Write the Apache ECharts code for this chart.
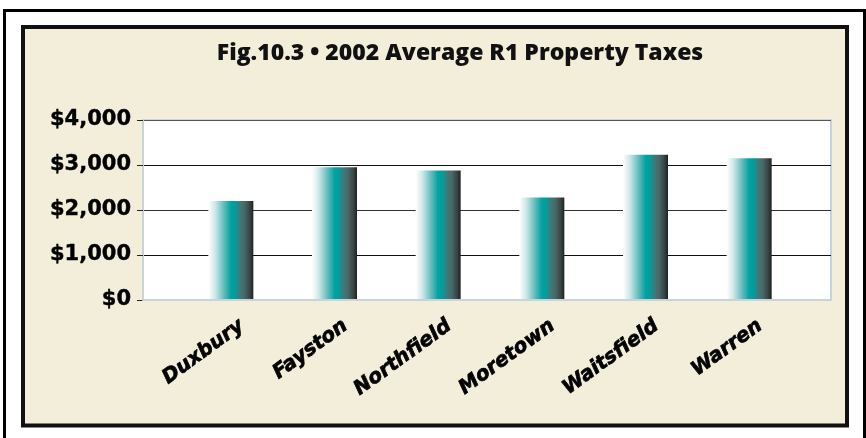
<!DOCTYPE html>
<html>
<head>
<meta charset="utf-8">
<script src="https://cdn.jsdelivr.net/npm/echarts@6/dist/echarts.min.js"></script>
<style>
  html, body { margin: 0; padding: 0; background: #fff; }
  #chart { width: 866px; height: 438px; }
</style>
</head>
<body>
<div id="chart"></div>
<script>
// town names and average R1 property tax (dollars)
var towns = ["Duxbury", "Fayston", "Northfield", "Moretown", "Waitsfield", "Warren"];
var taxes = [2200, 2950, 2880, 2280, 3230, 3150];
var yTicks = [0, 1000, 2000, 3000, 4000];

var chart = echarts.init(document.getElementById("chart"));

var barFill = new echarts.graphic.LinearGradient(0, 0, 1, 0, [
  { offset: 0, color: "#ffffff" },
  { offset: 0.15, color: "#cce8e8" },
  { offset: 0.35, color: "#5fbcbc" },
  { offset: 0.5, color: "#00a3a3" },
  { offset: 0.6, color: "#089a9a" },
  { offset: 0.68, color: "#3f7b7b" },
  { offset: 0.8, color: "#4c6767" },
  { offset: 0.92, color: "#384444" },
  { offset: 1, color: "#1e2222" }
]);

function money(v) {
  return "$" + v.toLocaleString("en-US");
}

chart.setOption({
  backgroundColor: "#ffffff",
  animation: false,
  title: {
    text: "Fig.10.3 \u2022 2002 Average R1 Property Taxes",
    left: 455,
    top: 37,
    textAlign: "center",
    textStyle: {
      fontFamily: "Open Sans",
      fontWeight: 800,
      fontSize: 23,
      color: "#111"
    }
  },
  graphic: [
    {
      type: "rect",
      z: -20,
      shape: { x: 4.5, y: 10.5, width: 860, height: 450 },
      style: { fill: "#ffffff", stroke: "#000", lineWidth: 3 }
    },
    {
      type: "rect",
      z: -19,
      shape: { x: 23, y: 27, width: 824, height: 398.5 },
      style: { fill: "#f3eed9", stroke: "#111", lineWidth: 4 }
    }
  ],
  grid: [
    {
      left: 143, top: 120, width: 688, height: 180,
      show: true, backgroundColor: "#ffffff",
      borderColor: "#c9d3dc", borderWidth: 2
    },
    { left: 179, top: 120, width: 622, height: 180 },
    { left: 190, top: 120, width: 622, height: 180 }
  ],
  xAxis: [
    {
      gridIndex: 0, type: "value", min: 0, max: 1, z: 5,
      axisLine: { show: true, lineStyle: { color: "#c9d3dc", width: 2 } },
      axisTick: { show: false }, axisLabel: { show: false }, splitLine: { show: false }
    },
    {
      gridIndex: 1, type: "category", data: towns,
      axisLine: { show: false }, axisTick: { show: false }, axisLabel: { show: false }
    },
    {
      gridIndex: 2, type: "category", data: towns,
      axisLine: { show: false }, axisTick: { show: false },
      axisLabel: {
        rotate: 36,
        margin: 24,
        interval: 0,
        fontFamily: "DejaVu Sans",
        fontWeight: "bold",
        fontStyle: "italic",
        fontSize: 20,
        color: "#000",
        textBorderColor: "#000",
        textBorderWidth: 0.7
      }
    }
  ],
  yAxis: [
    {
      gridIndex: 0, type: "value", min: yTicks[0], max: yTicks[yTicks.length - 1], interval: 1000,
      axisLine: { show: true, lineStyle: { color: "#c9d3dc", width: 2 } },
      axisTick: { show: true, length: 6, lineStyle: { color: "#222" } },
      axisLabel: {
        margin: 12,
        fontFamily: "DejaVu Sans",
        fontWeight: "bold",
        fontSize: 21,
        color: "#000",
        textBorderColor: "#000",
        textBorderWidth: 0.4,
        formatter: money
      },
      splitLine: {
        show: true,
        lineStyle: { color: ["#c9d3dc", "#111", "#333", "#111", "#555"], width: 1 }
      }
    },
    {
      gridIndex: 1, type: "value", min: 0, max: 4000, show: false
    },
    {
      gridIndex: 2, type: "value", min: 0, max: 4000, show: false
    }
  ],
  series: [
    {
      type: "bar",
      xAxisIndex: 1,
      yAxisIndex: 1,
      data: taxes,
      barWidth: 45,
      itemStyle: { color: barFill }
    }
  ]
});
</script>
</body>
</html>
